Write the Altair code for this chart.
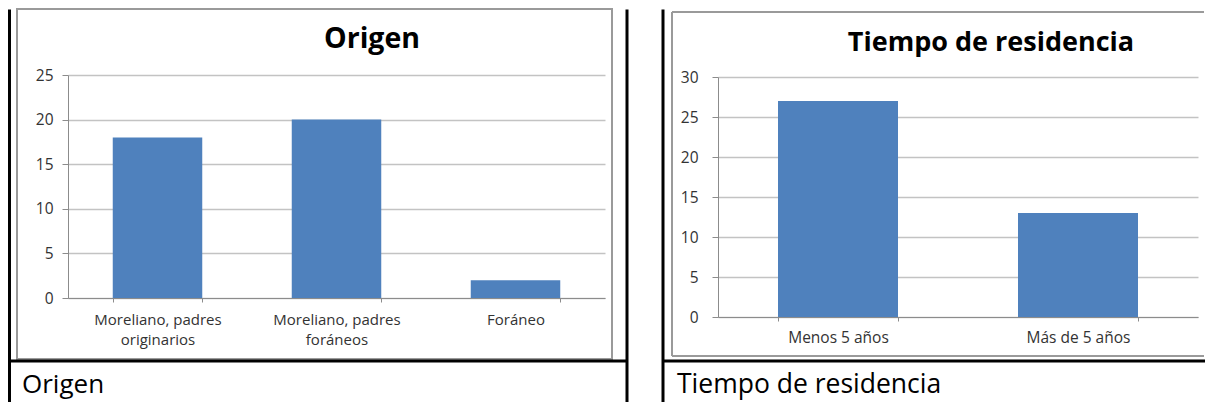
import altair as alt
import pandas as pd

# ---------------- data ----------------
origen_cats = ["Moreliano, padres originarios", "Moreliano, padres foráneos", "Foráneo"]
origen_vals = [18, 20, 2]
origen_ticks = [0, 5, 10, 15, 20, 25]

res_cats = ["Menos 5 años", "Más de 5 años"]
res_vals = [27, 13]
res_ticks = [0, 5, 10, 15, 20, 25, 30]

chart_titles = ["Origen", "Tiempo de residencia"]
captions = ["Origen", "Tiempo de residencia"]

# ---------------- style ----------------
BLUE = "#4f81bd"
GRID = "#c3c3c3"
AXIS = "#8c8c8c"
FRAME = "#9a9a9a"
LABEL = "#333333"
FONT = "Open Sans"

one = pd.DataFrame({"k": [0]})


def rule(ox, oy, x1, y1, x2, y2, color, w):
    return alt.Chart(one).mark_rule(color=color, strokeWidth=w).encode(
        x=alt.value(x1 - ox), y=alt.value(y1 - oy),
        x2=alt.value(x2 - ox), y2=alt.value(y2 - oy))


def text(ox, oy, x, y, label, size, weight, align):
    df = pd.DataFrame({"t": [label]})
    return alt.Chart(df).mark_text(
        font=FONT, fontSize=size, fontWeight=weight, align=align,
        baseline="alphabetic", color="#000000"
    ).encode(x=alt.value(x - ox), y=alt.value(y - oy), text="t:N")


def bars(cats, vals, ticks, w, h, yrange, xlab_size, xlab_pad, ylab_pad, ytick):
    df = pd.DataFrame({"cat": cats, "val": vals})
    return alt.Chart(df).mark_bar(color=BLUE).encode(
        x=alt.X("cat:N", sort=cats, title=None,
                scale=alt.Scale(paddingInner=0.5, paddingOuter=0.25),
                axis=alt.Axis(labelAngle=0, tickBand="extent", grid=False,
                              domainColor=AXIS, tickColor=AXIS, tickSize=4,
                              labelFont=FONT, labelFontSize=xlab_size,
                              labelColor=LABEL, labelPadding=xlab_pad,
                              labelLineHeight=20.5,
                              labelExpr="split(replace(datum.label, 'padres ', 'padres|'), '|')")),
        y=alt.Y("val:Q", title=None,
                scale=alt.Scale(domain=[ticks[0], ticks[-1]], range=yrange, nice=False),
                axis=alt.Axis(values=ticks, grid=True, gridColor=GRID, gridWidth=1.4,
                              domainColor=AXIS, tickColor=AXIS, tickSize=ytick,
                              labelFont=FONT, labelFontSize=15.5, labelColor=LABEL,
                              labelPadding=ylab_pad)),
    ).properties(width=w, height=h)


# ---------------- panel 1 : Origen ----------------
ox1, oy = 68, 75
p1 = alt.layer(
    alt.Chart(one).mark_rect(filled=False, color=FRAME, strokeWidth=2).encode(
        x=alt.value(17 - ox1), x2=alt.value(612 - ox1),
        y=alt.value(9 - oy), y2=alt.value(359 - oy)),
    bars(origen_cats, origen_vals, origen_ticks, 537, 223, [223, 0], 15, 10, 9, 6),
    text(ox1, oy, 372, 48, chart_titles[0], 28.5, "bold", "center"),
    text(ox1, oy, 22, 393, captions[0], 26, "normal", "left"),
    rule(ox1, oy, 9.5, 9.5, 9.5, 402, "#000000", 3),
    rule(ox1, oy, 627, 9.5, 627, 402, "#000000", 3),
    rule(ox1, oy, 9.5, 361, 627, 361, "#000000", 3),
)

# ---------------- panel 2 : Tiempo de residencia ----------------
ox2 = 718
p2 = alt.layer(
    rule(ox2, oy, 672, 12, 1204, 12, FRAME, 2),
    rule(ox2, oy, 672, 12, 672, 356, FRAME, 2),
    rule(ox2, oy, 672, 356, 1204, 356, FRAME, 2),
    bars(res_cats, res_vals, res_ticks, 480, 242, [242, 2], 15.5, 9, 14, 6),
    text(ox2, oy, 991, 51, chart_titles[1], 27, "bold", "center"),
    text(ox2, oy, 677, 393, captions[1], 26.5, "normal", "left"),
    rule(ox2, oy, 663, 9.5, 663, 402, "#000000", 3),
    rule(ox2, oy, 663, 361, 1205, 361, "#000000", 3),
)

chart = alt.hconcat(p1, p2, spacing=32).properties(
    padding=0, background="#ffffff"
).configure_view(strokeWidth=0)

chart.save("out.html", embed_options={"renderer": "svg", "actions": False})
